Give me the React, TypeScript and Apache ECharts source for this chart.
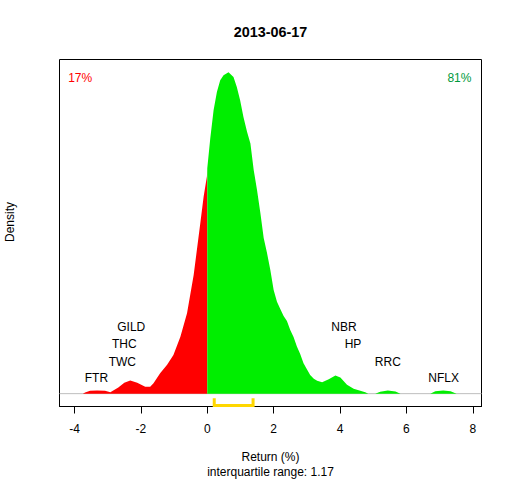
import React, { useEffect, useRef } from "react";
import * as echarts from "echarts";

const FONT = "'Liberation Sans', Arial, sans-serif";

// Density curve (return %, density), split at 0
const negX = [-3.75, -3.68, -3.53, -3.32, -3.08, -2.92, -2.68, -2.5, -2.32, -2.11, -1.87, -1.72, -1.62, -1.42, -1.21, -1.02, -0.81, -0.61, -0.41, -0.21, -0.11, -0.01, 0];
const negD = [0, 0.0016, 0.0044, 0.0048, 0.0044, 0.0023, 0.0095, 0.0168, 0.0204, 0.0168, 0.0106, 0.0106, 0.0163, 0.0319, 0.0448, 0.0603, 0.0887, 0.1251, 0.1846, 0.265, 0.3063, 0.3385, 0.3509];
const posX = [0, 0.09, 0.19, 0.29, 0.39, 0.49, 0.64, 0.79, 0.89, 0.99, 1.09, 1.2, 1.3, 1.4, 1.5, 1.6, 1.7, 1.8, 1.9, 2.0, 2.1, 2.2, 2.3, 2.4, 2.5, 2.6, 2.7, 2.8, 2.9, 3.01, 3.1, 3.21, 3.31, 3.46, 3.66, 3.86, 4.01, 4.21, 4.41, 4.61, 4.76, 4.85, 5.06, 5.21, 5.44, 5.67, 5.82, 6.72, 6.87, 7.11, 7.33, 7.51];
const posD = [0.3509, 0.397, 0.441, 0.4695, 0.4876, 0.4954, 0.5001, 0.4928, 0.4772, 0.4566, 0.4306, 0.4073, 0.3893, 0.3478, 0.3167, 0.281, 0.2421, 0.2188, 0.1924, 0.1613, 0.1429, 0.1318, 0.121, 0.1131, 0.0991, 0.0882, 0.0732, 0.0618, 0.0474, 0.037, 0.0292, 0.023, 0.0199, 0.0179, 0.0225, 0.0281, 0.025, 0.0137, 0.0075, 0.0044, 0.0023, 0, 0, 0.003, 0.0048, 0.0033, 0, 0, 0.0036, 0.0048, 0.0039, 0];

// Outlier tickers: name, return, stacking height
const tickerNames = ["GILD", "THC", "TWC", "FTR", "NBR", "HP", "RRC", "NFLX"];
const tickerX = [-2.29, -2.5, -2.56, -3.34, 4.12, 4.39, 5.44, 7.12];
const tickerY = [0.1033, 0.0769, 0.0499, 0.025, 0.1033, 0.0769, 0.0499, 0.025];

const xTicks = [-4, -2, 0, 2, 4, 6, 8];
const xMin = -4.452;
const xMax = 8.262;
const yMin = -0.02;
const yMax = 0.52;

const pctNeg = "17%";
const pctPos = "81%";
const q1 = 0.21;
const q3 = 1.38;
const iqrText = "interquartile range: 1.17";
const titleText = "2013-06-17";

export default function App() {
  const ref = useRef<HTMLDivElement>(null);
  useEffect(() => {
    if (!ref.current) return;
    const chart = echarts.init(ref.current, undefined, { renderer: "svg" });
    const labelBase = {
      show: true,
      position: "inside",
      formatter: (p: any) => p.name,
      fontSize: 12,
      fontFamily: FONT,
      opacity: 1,
      textBorderWidth: 0,
      textShadowBlur: 0,
    };
    const option: any = {
      animation: false,
      textStyle: { fontFamily: FONT },
      grid: {
        left: 59.5,
        right: 30.5,
        top: 59.5,
        bottom: 73.5,
        show: true,
        borderColor: "#000",
        borderWidth: 1,
        backgroundColor: "transparent",
      },
      xAxis: {
        type: "value",
        min: xMin,
        max: xMax,
        splitLine: { show: false },
        axisLine: { show: true, onZero: false, lineStyle: { color: "#000", width: 1 } },
        axisTick: { show: true, customValues: xTicks, length: 7, lineStyle: { color: "#000" } },
        axisLabel: { show: true, customValues: xTicks, color: "#000", fontSize: 12, fontFamily: FONT, margin: 16 },
      },
      yAxis: {
        type: "value",
        min: yMin,
        max: yMax,
        show: false,
        splitLine: { show: false },
      },
      graphic: [
        { type: "text", x: 270.5, y: 32, style: { text: titleText, font: `bold 14.4px ${FONT}`, fill: "#000", align: "center", verticalAlign: "middle" } },
        { type: "text", x: 270.5, y: 457, style: { text: "Return (%)", font: `12px ${FONT}`, fill: "#000", align: "center", verticalAlign: "middle" } },
        { type: "text", x: 270.5, y: 471.5, style: { text: iqrText, font: `12px ${FONT}`, fill: "#000", align: "center", verticalAlign: "middle" } },
        { type: "text", x: 9.5, y: 222, rotation: Math.PI / 2, style: { text: "Density", font: `12px ${FONT}`, fill: "#000", align: "center", verticalAlign: "middle" } },
      ],
      series: [
        {
          type: "line",
          data: [[xMin, 0], [xMax, 0]],
          symbol: "none",
          lineStyle: { color: "#bebebe", width: 1 },
          z: 1,
        },
        {
          type: "line",
          data: negX.map((x, i) => [x, negD[i]]),
          symbol: "none",
          lineStyle: { width: 0 },
          areaStyle: { color: "#ff0000", opacity: 1 },
          z: 2,
        },
        {
          type: "line",
          data: posX.map((x, i) => [x, posD[i]]),
          symbol: "none",
          lineStyle: { width: 0 },
          areaStyle: { color: "#00ee00", opacity: 1 },
          z: 2,
        },
        {
          type: "line",
          data: [[q1, -0.007], [q1, -0.0185], [q3, -0.0185], [q3, -0.007]],
          symbol: "none",
          clip: false,
          lineStyle: { color: "#ffd700", width: 3, join: "miter" },
          z: 5,
        },
        {
          type: "scatter",
          symbolSize: 1,
          itemStyle: { color: "#fff", opacity: 0 },
          data: tickerNames.map((n, i) => ({ name: n, value: [tickerX[i], tickerY[i]] })),
          label: { ...labelBase, color: "#000" },
          z: 6,
        },
        {
          type: "scatter",
          symbolSize: 1,
          itemStyle: { color: "#fff", opacity: 0 },
          data: [
            { name: pctNeg, value: [-4.19, 0.4908], label: { align: "left", color: "#ff0000" } },
            { name: pctPos, value: [7.96, 0.4908], label: { align: "right", color: "#00993c" } },
          ],
          label: labelBase,
          z: 6,
        },
      ],
    };
    chart.setOption(option);
    return () => chart.dispose();
  }, []);
  return (
    <div
      ref={ref}
      style={{ position: "absolute", left: 0, top: 0, width: 512, height: 480, background: "#fff" }}
    />
  );
}
